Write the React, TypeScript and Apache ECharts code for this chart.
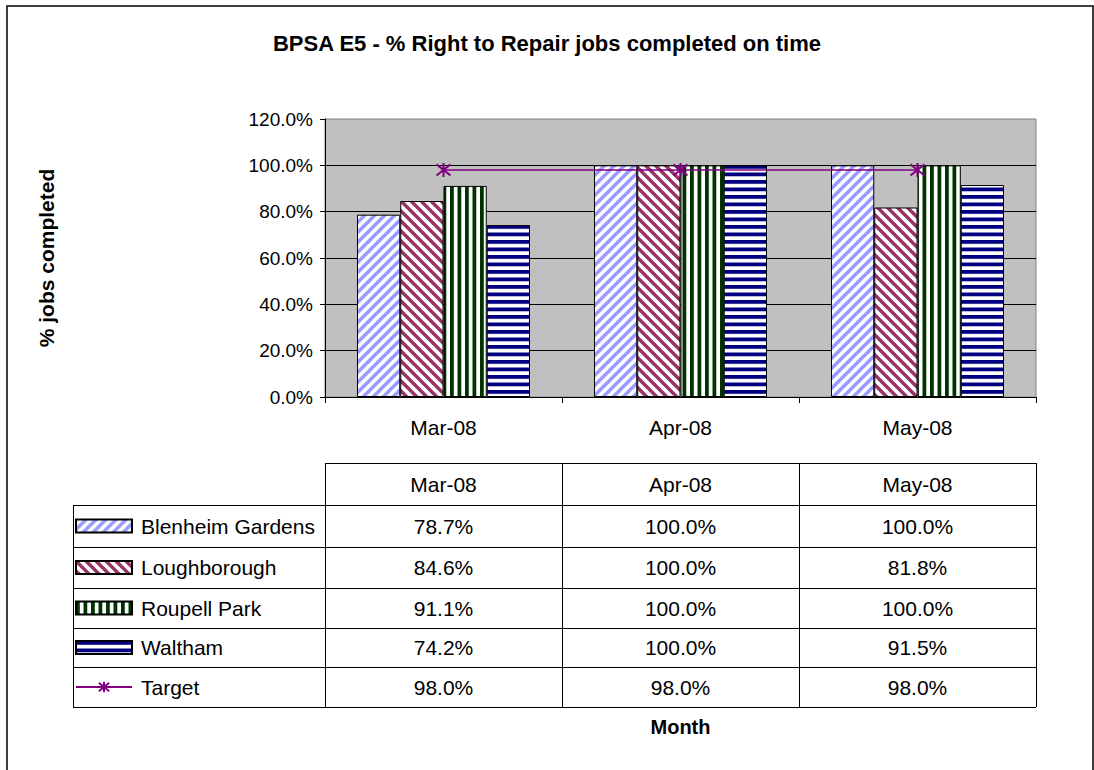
import React, { useEffect, useRef } from 'react';
import * as echarts from 'echarts';

const categories = ['Mar-08', 'Apr-08', 'May-08'];
const seriesNames = ['Blenheim Gardens', 'Loughborough', 'Roupell Park', 'Waltham', 'Target'];
const blenheim = [78.7, 100.0, 100.0];
const loughborough = [84.6, 100.0, 81.8];
const roupell = [91.1, 100.0, 100.0];
const waltham = [74.2, 100.0, 91.5];
const target = [98.0, 98.0, 98.0];
const allValues = [blenheim, loughborough, roupell, waltham, target];

const FONT = "'Liberation Sans', Arial, sans-serif";
const FS = 21;

function svgPattern(w: number, h: number, body: string) {
  const svg = `<svg xmlns='http://www.w3.org/2000/svg' width='${w}' height='${h}'><rect width='${w}' height='${h}' fill='#ffffff'/>${body}</svg>`;
  return {
    image: 'data:image/svg+xml;charset=utf-8,' + encodeURIComponent(svg),
    repeat: 'repeat',
    imageWidth: w,
    imageHeight: h,
  };
}

const P = 10;
const upDiag = svgPattern(
  P, P,
  `<g stroke='#9999FF' stroke-width='3.4'><line x1='-2' y1='${P + 2}' x2='${P + 2}' y2='-2'/><line x1='-5' y1='5' x2='5' y2='-5'/><line x1='5' y1='15' x2='15' y2='5'/></g>`
);
const downDiag = svgPattern(
  P, P,
  `<g stroke='#993366' stroke-width='3.4'><line x1='-2' y1='-2' x2='${P + 2}' y2='${P + 2}'/><line x1='-5' y1='5' x2='5' y2='15'/><line x1='5' y1='-5' x2='15' y2='5'/></g>`
);
const vertStripe = svgPattern(7.5, 8, `<rect x='0' y='0' width='3.8' height='8' fill='#003300'/>`);
const horzStripe = svgPattern(8, 7.5, `<rect x='0' y='0' width='8' height='3.8' fill='#000080'/>`);
const fills = [upDiag, downDiag, vertStripe, horzStripe];

const asterisk = 'path://M5,0L5,10M0,1L10,9M0,9L10,1';

export default function App() {
  const ref = useRef<HTMLDivElement>(null);
  useEffect(() => {
    if (!ref.current) return;
    const chart = echarts.init(ref.current, null, { renderer: 'svg' });

    const gridL = 325, gridT = 119, gridR = 1036, gridB = 397;
    const colW = (gridR - gridL) / categories.length;
    const tableTop = 463;
    const rowLines = [505, 547, 588, 628, 667, 707];
    const legendLeft = 73;

    const graphics: any[] = [];
    graphics.push({
      type: 'rect', shape: { x: 7, y: 6, width: 1086, height: 820 },
      style: { fill: 'none', stroke: '#000', lineWidth: 1.5 }, silent: true,
    });
    const line = (x1: number, y1: number, x2: number, y2: number) => ({
      type: 'line', shape: { x1, y1, x2, y2 }, style: { stroke: '#000', lineWidth: 1 }, silent: true,
    });
    graphics.push(line(gridL, tableTop + 0.5, gridR, tableTop + 0.5));
    rowLines.forEach((y) => graphics.push(line(legendLeft, y + 0.5, gridR, y + 0.5)));
    graphics.push(line(legendLeft + 0.5, rowLines[0], legendLeft + 0.5, rowLines[rowLines.length - 1]));
    for (let i = 0; i <= categories.length; i++) {
      const x = Math.round(gridL + i * colW) + 0.5;
      graphics.push(line(x, tableTop, x, rowLines[rowLines.length - 1]));
    }
    categories.forEach((c, i) => {
      graphics.push({
        type: 'text', x: gridL + (i + 0.5) * colW, y: (tableTop + rowLines[0]) / 2,
        style: { text: c, fontSize: FS, fontFamily: FONT, fill: '#000', align: 'center', verticalAlign: 'middle' },
      });
    });
    allValues.forEach((vals, r) => {
      const cy = (rowLines[r] + rowLines[r + 1]) / 2;
      vals.forEach((v, i) => {
        graphics.push({
          type: 'text', x: gridL + (i + 0.5) * colW, y: cy,
          style: { text: v.toFixed(1) + '%', fontSize: FS, fontFamily: FONT, fill: '#000', align: 'center', verticalAlign: 'middle' },
        });
      });
    });

    const legends = seriesNames.map((name, r) => {
      const cy = (rowLines[r] + rowLines[r + 1]) / 2;
      const leg: any = {
        data: [name],
        left: 75,
        top: cy - 10.5,
        padding: 0,
        itemWidth: 56,
        itemHeight: 13,
        itemGap: 0,
        selectedMode: false,
        textStyle: { fontSize: FS, fontFamily: FONT, color: '#000', padding: [0, 0, 0, 4] },
      };
      if (r < 4) leg.icon = 'rect';
      return leg;
    });

    const barSeries = [blenheim, loughborough, roupell, waltham].map((vals, i) => ({
      name: seriesNames[i],
      type: 'bar',
      data: vals,
      barGap: '0%',
      barCategoryGap: '27%',
      itemStyle: { color: fills[i] as any, borderColor: '#000', borderWidth: 1 },
    }));

    chart.setOption({
      animation: false,
      textStyle: { fontFamily: FONT },
      title: {
        text: 'BPSA E5 - % Right to Repair jobs completed on time',
        left: 'center',
        top: 27,
        textStyle: { fontSize: 22, fontWeight: 'bold', color: '#000', fontFamily: FONT },
      },
      legend: legends,
      grid: {
        left: gridL, top: gridT, width: gridR - gridL, height: gridB - gridT,
        show: true, backgroundColor: '#C0C0C0', borderColor: '#808080', borderWidth: 1,
      },
      xAxis: {
        type: 'category',
        data: categories,
        name: 'Month',
        nameLocation: 'middle',
        nameGap: 320,
        nameTextStyle: { fontSize: 20, fontWeight: 'bold', color: '#000', fontFamily: FONT },
        axisLine: { lineStyle: { color: '#000', width: 1 } },
        axisTick: { show: true, length: 6, lineStyle: { color: '#000' } },
        axisLabel: { fontSize: FS, color: '#000', margin: 20, fontFamily: FONT },
      },
      yAxis: {
        type: 'value',
        min: 0,
        max: 120,
        interval: 20,
        name: '% jobs completed',
        nameLocation: 'middle',
        nameRotate: 90,
        nameGap: 268,
        nameTextStyle: { fontSize: 21, fontWeight: 'bold', color: '#000', fontFamily: FONT },
        axisLine: { show: true, lineStyle: { color: '#000', width: 1 } },
        axisTick: { show: true, length: 5, lineStyle: { color: '#000' } },
        axisLabel: { fontSize: 19, color: '#000', margin: 12, fontFamily: FONT, formatter: (v: number) => v.toFixed(1) + '%' },
        splitLine: { show: true, showMaxLine: false, lineStyle: { color: '#000', width: 1 } },
      },
      series: [
        ...barSeries,
        {
          name: seriesNames[4],
          type: 'line',
          data: target,
          z: 5,
          symbol: asterisk,
          symbolSize: [14, 14],
          lineStyle: { color: '#800080', width: 1.6 },
          itemStyle: { color: '#800080', borderColor: '#800080', borderWidth: 2 },
        },
      ],
      graphic: graphics,
    } as any);

    return () => chart.dispose();
  }, []);

  return <div ref={ref} style={{ position: 'fixed', left: 0, top: 0, width: 1094, height: 770, background: '#fff' }} />;
}
